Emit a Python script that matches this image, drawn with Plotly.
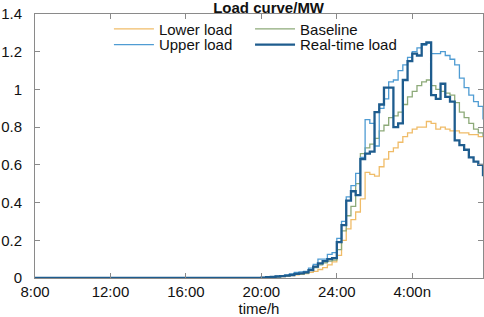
import plotly.graph_objects as go

# 15-minute time steps from 8:00 to 7:45 next day (hours)
hours = [8 + 0.25 * k for k in range(96)]
tick_hours = [8, 12, 16, 20, 24, 28]
tick_labels = ["8:00", "12:00", "16:00", "20:00", "24:00", "4:00n"]

lower_load = [
    0, 0, 0, 0, 0, 0, 0, 0, 0, 0, 0, 0,
    0, 0, 0, 0, 0, 0, 0, 0, 0, 0, 0, 0,
    0, 0, 0, 0, 0, 0, 0, 0, 0, 0, 0, 0,
    0, 0, 0, 0, 0, 0, 0, 0, 0, 0, 0, 0,
    0.001, 0.003, 0.004, 0.006, 0.008, 0.010, 0.013, 0.017, 0.020, 0.023, 0.030, 0.035,
    0.045, 0.055, 0.070, 0.085, 0.12, 0.20, 0.26, 0.31, 0.35, 0.42, 0.56, 0.55,
    0.54, 0.59, 0.63, 0.67, 0.69, 0.72, 0.75, 0.77, 0.79, 0.80, 0.80, 0.83,
    0.82, 0.79, 0.80, 0.79, 0.78, 0.78, 0.77, 0.77, 0.76, 0.76, 0.75, 0.75,
]
baseline = [
    0, 0, 0, 0, 0, 0, 0, 0, 0, 0, 0, 0,
    0, 0, 0, 0, 0, 0, 0, 0, 0, 0, 0, 0,
    0, 0, 0, 0, 0, 0, 0, 0, 0, 0, 0, 0,
    0, 0, 0, 0, 0, 0, 0, 0, 0, 0, 0, 0,
    0.002, 0.004, 0.005, 0.007, 0.009, 0.012, 0.015, 0.020, 0.022, 0.026, 0.040, 0.055,
    0.070, 0.080, 0.090, 0.095, 0.15, 0.25, 0.33, 0.38, 0.50, 0.66, 0.69, 0.71,
    0.74, 0.78, 0.81, 0.85, 0.86, 0.88, 0.92, 0.96, 0.99, 1.02, 1.04, 1.05,
    1.02, 1.00, 0.99, 0.98, 0.97, 0.93, 0.88, 0.85, 0.82, 0.79, 0.77, 0.75,
]
upper_load = [
    0, 0, 0, 0, 0, 0, 0, 0, 0, 0, 0, 0,
    0, 0, 0, 0, 0, 0, 0, 0, 0, 0, 0, 0,
    0, 0, 0, 0, 0, 0, 0, 0, 0, 0, 0, 0,
    0, 0, 0, 0, 0, 0, 0, 0, 0, 0, 0, 0,
    0.003, 0.005, 0.007, 0.010, 0.013, 0.017, 0.022, 0.030, 0.032, 0.035, 0.052, 0.072,
    0.10, 0.10, 0.125, 0.135, 0.21, 0.30, 0.43, 0.49, 0.555, 0.64, 0.84, 0.82,
    0.70, 0.90, 0.95, 1.04, 1.05, 1.10, 1.13, 1.17, 1.20, 1.22, 1.235, 1.245,
    1.19, 1.19, 1.20, 1.18, 1.16, 1.13, 1.06, 1.01, 0.97, 0.935, 0.91, 0.84,
]
real_time_load = [
    0, 0, 0, 0, 0, 0, 0, 0, 0, 0, 0, 0,
    0, 0, 0, 0, 0, 0, 0, 0, 0, 0, 0, 0,
    0, 0, 0, 0, 0, 0, 0, 0, 0, 0, 0, 0,
    0, 0, 0, 0, 0, 0, 0, 0, 0, 0, 0, 0,
    0.002, 0.004, 0.006, 0.008, 0.010, 0.013, 0.016, 0.022, 0.025, 0.030, 0.042, 0.060,
    0.078, 0.090, 0.100, 0.105, 0.19, 0.28, 0.41, 0.46, 0.44, 0.63, 0.66, 0.67,
    0.88, 0.92, 1.01, 1.01, 0.80, 0.82, 1.05, 1.15, 1.19, 1.18, 1.24, 1.25,
    0.97, 0.95, 1.03, 0.96, 0.935, 0.73, 0.705, 0.68, 0.64, 0.617, 0.60, 0.54,
]

FONT = "Arial, Liberation Sans, sans-serif"
AX = "#8a8a8a"

fig = go.Figure()
fig.add_trace(go.Scatter(x=hours, y=lower_load, mode="lines", line_shape="hv",
                         name="Lower load", line=dict(color="#F0BC68", width=1.3),
                         legend="legend"))
fig.add_trace(go.Scatter(x=hours, y=baseline, mode="lines", line_shape="hv",
                         name="Baseline", line=dict(color="#8DAA79", width=1.3),
                         legend="legend2"))
fig.add_trace(go.Scatter(x=hours, y=upper_load, mode="lines", line_shape="hv",
                         name="Upper load", line=dict(color="#4F9CD3", width=1.3),
                         legend="legend3"))
fig.add_trace(go.Scatter(x=hours, y=real_time_load, mode="lines", line_shape="hv",
                         name="Real-time load", line=dict(color="#1E5C8E", width=2.3),
                         legend="legend4"))

legend_common = dict(orientation="h", xanchor="left", yanchor="middle",
                     bgcolor="rgba(255,255,255,0)", borderwidth=0,
                     font=dict(family=FONT, size=15, color="#111"),
                     itemwidth=40, itemclick=False)

col1, col2 = 0.165, 0.48
row1, row2 = 0.943, 0.883

fig.update_layout(
    width=484, height=317,
    margin=dict(l=35, r=1, t=14, b=39, autoexpand=False),
    paper_bgcolor="white", plot_bgcolor="white",
    font=dict(family=FONT, size=15, color="#111"),
    title=dict(text="<b>Load curve/MW</b>", x=0.555, xref="container", xanchor="center",
               y=0.976, yref="container", yanchor="middle", pad=dict(t=0),
               font=dict(family=FONT, size=15, color="#111")),
    legend=dict(x=col1, y=row1, **legend_common),
    legend2=dict(x=col2, y=row1, **legend_common),
    legend3=dict(x=col1, y=row2, **legend_common),
    legend4=dict(x=col2, y=row2, **legend_common),
    showlegend=True,
)
fig.update_xaxes(range=[8, 31.75], tickvals=tick_hours, ticktext=tick_labels,
                 automargin=False,
                 showgrid=False, zeroline=False, showline=True, linecolor=AX, linewidth=1,
                 mirror="ticks", ticks="inside", ticklen=5, tickcolor=AX,
                 tickfont=dict(family=FONT, size=15, color="#111"),
                 title=dict(text="time/h", standoff=0, font=dict(family=FONT, size=15, color="#111")))
fig.update_yaxes(range=[0, 1.4], dtick=0.2, tick0=0, automargin=False,
                 showgrid=False, zeroline=False, showline=True, linecolor=AX, linewidth=1,
                 mirror="ticks", ticks="inside", ticklen=5, tickcolor=AX,
                 ticklabelstandoff=9,
                 tickfont=dict(family=FONT, size=15, color="#111"))

fig.write_html("out.html", config={"displayModeBar": False},
               post_script="document.body.style.margin='0';")
